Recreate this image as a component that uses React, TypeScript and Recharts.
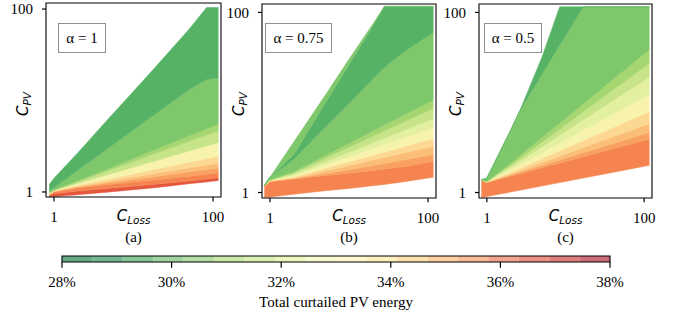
import React from 'react';
import { Area, ComposedChart, ReferenceArea, ReferenceLine, XAxis, YAxis } from 'recharts';

// C_Loss sample columns for each panel
const lossA = [0.87, 1, 2, 5, 10, 20, 50, 83, 117];
const lossB = [0.85, 1, 2, 5, 10, 20, 28, 50, 117];
const lossC = [0.85, 1, 2, 2.63, 5, 8.43, 10, 16.8, 50, 117];

// contour band edges (C_PV), listed bottom -> top, one value per C_Loss column
const edgesA = [
  [0.881, 0.891, 0.933, 1.0, 1.059, 1.122, 1.23, 1.288, 1.334],
  [0.912, 0.955, 1.023, 1.096, 1.153, 1.222, 1.318, 1.387, 1.429],
  [0.923, 1.0, 1.112, 1.208, 1.285, 1.371, 1.489, 1.56, 1.607],
  [0.933, 1.012, 1.132, 1.262, 1.371, 1.489, 1.66, 1.762, 1.832],
  [0.944, 1.019, 1.153, 1.318, 1.455, 1.611, 1.841, 1.977, 2.08],
  [0.955, 1.028, 1.183, 1.396, 1.581, 1.795, 2.118, 2.323, 2.466],
  [0.966, 1.038, 1.239, 1.563, 1.862, 2.218, 2.799, 3.184, 3.467],
  [0.977, 1.047, 1.294, 1.73, 2.153, 2.679, 3.581, 4.207, 4.677],
  [0.989, 1.059, 1.324, 1.828, 2.333, 2.979, 4.111, 4.92, 5.546],
  [1.023, 1.109, 1.738, 3.09, 4.786, 7.413, 13.18, 16.98, 17.78],
  [1.202, 1.413, 2.692, 6.531, 12.59, 24.55, 60.26, 104, 104],
];
const edgesB = [
  [0.881, 0.891, 0.955, 1.047, 1.109, 1.189, 1.23, 1.318, 1.479],
  [1.175, 1.318, 1.413, 1.549, 1.641, 1.758, 1.82, 1.95, 2.213],
  [1.189, 1.334, 1.429, 1.611, 1.795, 1.995, 2.104, 2.307, 2.63],
  [1.191, 1.343, 1.442, 1.734, 1.995, 2.291, 2.455, 2.761, 3.273],
  [1.194, 1.349, 1.483, 1.854, 2.193, 2.594, 2.812, 3.243, 3.981],
  [1.197, 1.358, 1.538, 2.032, 2.5, 3.083, 3.412, 4.064, 5.248],
  [1.197, 1.368, 1.592, 2.193, 2.793, 3.556, 4.009, 4.909, 6.607],
  [1.2, 1.377, 1.652, 2.399, 3.177, 4.207, 4.819, 6.109, 8.61],
  [1.2, 1.387, 1.702, 2.582, 3.524, 4.819, 5.61, 7.311, 10.72],
  [1.202, 1.479, 2.344, 5.309, 9.772, 18.2, 24.55, 36.73, 60.26],
  [1.202, 1.479, 2.63, 9.772, 26.3, 70.79, 116.7, 116.7, 116.7],
  [1.202, 1.479, 3.631, 12.02, 30.2, 74.13, 116.7, 116.7, 116.7],
];
const edgesC = [
  [0.881, 0.902, 1.012, 1.059, 1.18, 1.288, 1.327, 1.445, 1.738, 2.004],
  [1.38, 1.288, 1.517, 1.614, 1.879, 2.123, 2.213, 2.5, 3.221, 3.936],
  [1.38, 1.294, 1.556, 1.675, 1.991, 2.296, 2.404, 2.767, 3.715, 4.677],
  [1.38, 1.3, 1.607, 1.75, 2.148, 2.535, 2.679, 3.162, 4.467, 5.848],
  [1.38, 1.306, 1.679, 1.862, 2.382, 2.911, 3.105, 3.784, 5.741, 7.943],
  [1.38, 1.312, 1.791, 2.037, 2.761, 3.54, 3.837, 4.909, 8.222, 12.3],
  [1.38, 1.318, 1.91, 2.228, 3.206, 4.325, 4.753, 6.397, 11.86, 19.19],
  [1.38, 1.324, 2.009, 2.393, 3.614, 5.058, 5.636, 7.87, 15.81, 27.23],
  [1.38, 1.33, 2.113, 2.57, 4.074, 5.916, 6.683, 9.683, 21.09, 38.73],
  [1.38, 1.445, 4.898, 8.128, 20.42, 43.65, 54.95, 115.6, 115.6, 115.6],
  [1.38, 1.445, 4.898, 8.128, 31.62, 115.6, 115.6, 115.6, 115.6, 115.6],
];

const axisTicks = [1, 100];

// colorbar
const cbarLevels = [28, 28.56, 29.11, 29.67, 30.22, 30.78, 31.33, 31.89, 32.44, 33, 33.56, 34.11, 34.67, 35.22, 35.78, 36.33, 36.89, 37.44, 38];
const cbarTicks = [28, 30, 32, 34, 36, 38];
const cbarColors = [
  '#68a887', '#71b690', '#85c598', '#9fd3a0', '#b4dea3', '#c9e8a7', '#dbefb2', '#ebf6bf', '#f8fbcf',
  '#fef9cf', '#feefbe', '#fde0af', '#fccfa1', '#f9ba96', '#f4a48c', '#eb9083', '#df7d7c', '#cd6c7b',
];

const col = {
  red: '#e4573c',
  orangeRed: '#f58450',
  orange: '#f8a161',
  lightOrange: '#fbbe78',
  peach: '#fcd892',
  paleYellow: '#f8f3ac',
  paleYG: '#e2f0a0',
  yellowGreen: '#c8e489',
  lightGreen: '#a6d670',
  medGreen: '#7ec76a',
  darkGreen: '#56b366',
};

const colorsA = [col.red, col.orangeRed, col.orange, col.lightOrange, col.peach, col.paleYellow, col.yellowGreen, col.lightGreen, col.medGreen, col.darkGreen];
const colorsB = [col.orangeRed, col.orange, col.lightOrange, col.peach, col.paleYellow, col.paleYG, col.yellowGreen, col.lightGreen, col.medGreen, col.darkGreen, col.medGreen];
const colorsC = [col.orangeRed, col.orange, col.lightOrange, col.peach, col.paleYellow, col.paleYG, col.yellowGreen, col.lightGreen, col.medGreen, col.darkGreen];

const X_DOMAIN: [number, number] = [0.794, 125.9];
const serif = '"Liberation Serif", "Times New Roman", serif';
const mathFont = '"DejaVu Sans", sans-serif';

// charts start 10px above the page so the top tick label is not clipped by the svg
const panels = [
  { loss: lossA, edges: edgesA, colors: colorsA, left: 0, width: 228, margin: { top: 13, right: 7, bottom: 13, left: 6 }, yDomain: [0.881, 116.4] as [number, number], cx: 133.5, yLabelX: 23, boxLeft: 58, boxWidth: 48, alpha: 'α = 1', caption: '(a)' },
  { loss: lossB, edges: edgesB, colors: colorsB, left: 215, width: 228, margin: { top: 14, right: 7, bottom: 12, left: 7 }, yDomain: [0.869, 124] as [number, number], cx: 349, yLabelX: 239, boxLeft: 265, boxWidth: 67, alpha: 'α = 0.75', caption: '(b)' },
  { loss: lossC, edges: edgesC, colors: colorsC, left: 432, width: 227, margin: { top: 14, right: 7, bottom: 12, left: 7 }, yDomain: [0.869, 124] as [number, number], cx: 565.5, yLabelX: 456, boxLeft: 484, boxWidth: 58, alpha: 'α = 0.5', caption: '(c)' },
];

type Panel = (typeof panels)[number];

const tickFont = { fontSize: 15, fill: '#000', fontFamily: serif };

const ContourPanel = ({ p }: { p: Panel }) => {
  const rows = p.loss.map((x, i) => {
    const row: Record<string, number | number[]> = { x };
    p.colors.forEach((_, k) => {
      row['b' + k] = [p.edges[k][i], p.edges[k + 1][i]];
    });
    return row;
  });
  const [yMin] = p.yDomain;
  return (
    <div style={{ position: 'absolute', left: p.left, top: -10 }}>
      <ComposedChart width={p.width} height={250} data={rows} margin={p.margin} style={{ fontFamily: serif }}>
        <XAxis dataKey="x" type="number" scale="log" domain={X_DOMAIN} allowDataOverflow ticks={axisTicks} interval={0}
          axisLine={false} tickLine={false} tickSize={4} tickMargin={10} height={30} tick={tickFont} />
        <YAxis type="number" scale="log" domain={p.yDomain} allowDataOverflow ticks={axisTicks} interval={0}
          axisLine={false} tickLine={false} tickSize={4} tickMargin={9} width={40} tick={tickFont} />
        {p.colors.map((c, k) => (
          <Area key={k} dataKey={'b' + k} type="linear" fill={c} fillOpacity={1} stroke={c} strokeWidth={0.5}
            dot={false} activeDot={false} isAnimationActive={false} />
        ))}
        <ReferenceArea x1={X_DOMAIN[0]} x2={X_DOMAIN[1]} y1={p.yDomain[0]} y2={p.yDomain[1]}
          fill="none" stroke="#000" strokeWidth={1.1} ifOverflow="visible" />
        {axisTicks.map((t) => (
          <ReferenceLine key={'xt' + t} segment={[{ x: t, y: yMin }, { x: t, y: yMin * 0.895 }]}
            stroke="#000" strokeWidth={1.2} ifOverflow="visible" />
        ))}
        {axisTicks.map((t) => (
          <ReferenceLine key={'yt' + t} segment={[{ x: X_DOMAIN[0], y: t }, { x: X_DOMAIN[0] * 0.89, y: t }]}
            stroke="#000" strokeWidth={1.2} ifOverflow="visible" />
        ))}
      </ComposedChart>
    </div>
  );
};

const MathLabel = ({ sub }: { sub: string }) => (
  <span style={{ fontFamily: mathFont, fontStyle: 'italic', fontSize: 15 }}>
    C<span style={{ fontSize: 10.5, position: 'relative', top: '0.3em' }}>{sub}</span>
  </span>
);

const centered = (x: number, y: number, rotate = false): React.CSSProperties => ({
  position: 'absolute',
  left: x,
  top: y,
  transform: `translate(-50%, -50%)${rotate ? ' rotate(-90deg)' : ''}`,
  whiteSpace: 'nowrap',
  lineHeight: 1,
});

const Colorbar = () => {
  // each colour segment spans two neighbouring level rows
  const rows = cbarLevels.map((v, j) => {
    const row: Record<string, number | number[] | null> = { v };
    cbarColors.forEach((_, i) => {
      row['s' + i] = j === i || j === i + 1 ? [0, 1] : null;
    });
    return row;
  });
  return (
    <div style={{ position: 'absolute', left: 0, top: 240 }}>
      <ComposedChart width={683} height={78} data={rows} margin={{ top: 16, right: 73, bottom: 26, left: 62 }} style={{ fontFamily: serif }}>
        <XAxis dataKey="v" type="number" domain={[28, 38]} allowDataOverflow ticks={cbarTicks} interval={0}
          tickFormatter={(v: number) => `${v}%`} axisLine={false} tickLine={false} tickSize={5} tickMargin={9}
          height={30} tick={tickFont} />
        <YAxis type="number" domain={[0, 1]} allowDataOverflow width={0} tick={false} axisLine={false} tickLine={false} />
        {cbarColors.map((c, i) => (
          <Area key={i} dataKey={'s' + i} type="linear" fill={c} fillOpacity={1} stroke={c} strokeWidth={0.5}
            dot={false} activeDot={false} isAnimationActive={false} />
        ))}
        <ReferenceArea x1={28} x2={38} y1={0} y2={1} fill="none" stroke="#000" strokeWidth={1.1} ifOverflow="visible" />
        {cbarTicks.map((t) => (
          <ReferenceLine key={t} segment={[{ x: t, y: 0 }, { x: t, y: -0.95 }]} stroke="#000" strokeWidth={1.2} ifOverflow="visible" />
        ))}
      </ComposedChart>
    </div>
  );
};

export default function App() {
  return (
    <div style={{ position: 'absolute', left: 0, top: 0, width: 683, height: 318, background: '#fff', fontFamily: serif, color: '#000', overflow: 'hidden' }}>
      {panels.map((p) => (
        <ContourPanel key={p.caption} p={p} />
      ))}
      {panels.map((p) => (
        <React.Fragment key={'l' + p.caption}>
          <div style={{
            position: 'absolute', left: p.boxLeft, top: 23, width: p.boxWidth, height: 30, boxSizing: 'border-box',
            border: '1.5px solid #909090', background: '#fff', display: 'flex', alignItems: 'center', justifyContent: 'center',
            fontSize: 15, fontFamily: serif,
          }}>{p.alpha}</div>
          <div style={centered(p.cx, 216)}><MathLabel sub="Loss" /></div>
          <div style={{ ...centered(p.cx, 237), fontSize: 15 }}>{p.caption}</div>
          <div style={centered(p.yLabelX, 104, true)}><MathLabel sub="PV" /></div>
        </React.Fragment>
      ))}
      <Colorbar />
      <div style={{ ...centered(336, 302), fontSize: 15 }}>Total curtailed PV energy</div>
    </div>
  );
}
